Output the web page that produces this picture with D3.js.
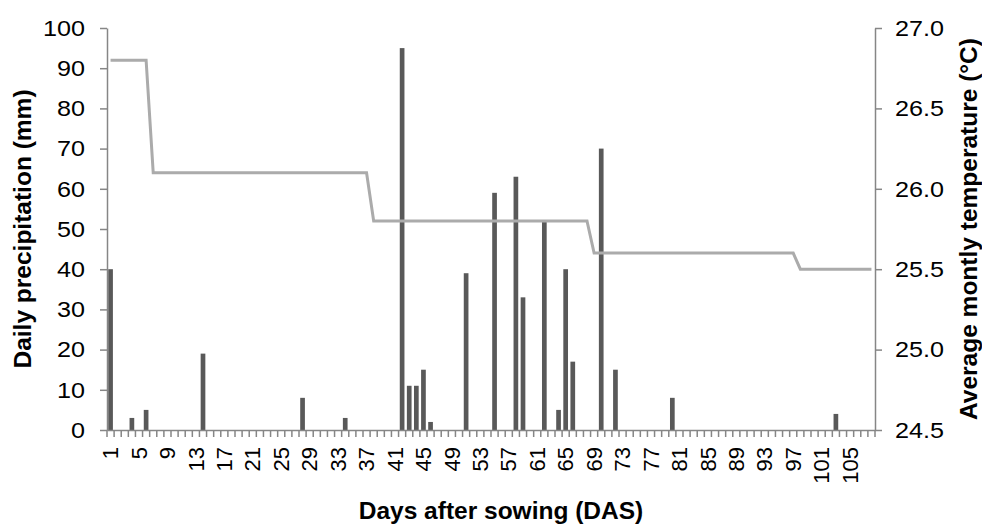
<!DOCTYPE html>
<html>
<head>
<meta charset="utf-8">
<script src="https://cdn.jsdelivr.net/npm/d3@7"></script>
<style>
  body { margin: 0; background: #fff; }
  svg text { font-family: "Liberation Sans", Arial, sans-serif; }
</style>
</head>
<body>
<div id="chart"></div>
<script>
// categories: days after sowing
var days = d3.range(1, 109);
var dayLabels = [1,5,9,13,17,21,25,29,33,37,41,45,49,53,57,61,65,69,73,77,81,85,89,93,97,101,105];

// daily precipitation (mm), only the rainy days
var rainDays   = [1, 4, 6, 14, 28, 34, 42, 43, 44, 45, 46, 51, 55, 58, 59, 62, 64, 65, 66, 70, 72, 80, 103];
var rainValues = [40, 3, 5, 19, 8, 3, 95, 11, 11, 15, 2, 39, 59, 63, 33, 52, 5, 40, 17, 70, 15, 8, 4];

// average monthly temperature (C), corner points of the step line
var tempDays   = [1, 6, 7, 37, 38, 68, 69, 97, 98, 108];
var tempValues = [26.8, 26.8, 26.1, 26.1, 25.8, 25.8, 25.6, 25.6, 25.5, 25.5];

var leftTicks  = [0,10,20,30,40,50,60,70,80,90,100];
var rightTicks = [24.5,25.0,25.5,26.0,26.5,27.0];

var W = 982, H = 527;
var pLeft = 107, pRight = 875, pTop = 28, pBottom = 430;
var axisColor = "#868686";

var svg = d3.select("#chart").append("svg")
    .attr("width", W).attr("height", H);

var x = d3.scaleBand().domain(days).range([pLeft, pRight]).padding(0);
var yL = d3.scaleLinear().domain([0, 100]).range([pBottom, pTop]);
var yR = d3.scaleLinear().domain([24.5, 27]).range([pBottom, pTop]);
var bw = x.bandwidth();

// bars
svg.selectAll(".bar")
    .data(rainDays)
    .enter().append("rect")
    .attr("class", "bar")
    .attr("x", function(d){ return x(d) + bw * 0.17; })
    .attr("width", bw * 0.66)
    .attr("y", function(d, i){ return yL(rainValues[i]); })
    .attr("height", function(d, i){ return pBottom - yL(rainValues[i]); })
    .attr("fill", "#595959");

// temperature line
var line = d3.line()
    .x(function(d){ return x(d) + bw / 2; })
    .y(function(d, i){ return yR(tempValues[i]); });

svg.append("path")
    .datum(tempDays)
    .attr("d", line)
    .attr("fill", "none")
    .attr("stroke", "#ababab")
    .attr("stroke-width", 3);

// left axis
var gL = svg.append("g")
    .attr("transform", "translate(" + pLeft + ",0)")
    .call(d3.axisLeft(yL).tickValues(leftTicks).tickSize(7).tickPadding(15).tickSizeOuter(0));

// right axis
var gR = svg.append("g")
    .attr("transform", "translate(" + pRight + ",0)")
    .call(d3.axisRight(yR).tickValues(rightTicks).tickSize(7).tickPadding(13).tickSizeOuter(0)
        .tickFormat(d3.format(".1f")));

// bottom axis: labels
var gB = svg.append("g")
    .attr("transform", "translate(0," + pBottom + ")")
    .call(d3.axisBottom(x).tickValues(dayLabels).tickSize(0).tickSizeOuter(0));

gB.selectAll("text")
    .attr("transform", "rotate(-90)")
    .attr("text-anchor", "end")
    .attr("x", -17)
    .attr("y", 0)
    .attr("dy", "0.35em");

// bottom axis: tick marks between days
gB.selectAll(".daytick")
    .data(days.concat([null]))
    .enter().append("line")
    .attr("class", "daytick")
    .attr("x1", function(d){ return d === null ? pRight : x(d); })
    .attr("x2", function(d){ return d === null ? pRight : x(d); })
    .attr("y1", 0)
    .attr("y2", 7)
    .attr("stroke", axisColor)
    .attr("stroke-width", 1.5);

[gL, gR, gB].forEach(function(g){
  g.selectAll(".domain").attr("stroke", axisColor).attr("stroke-width", 1.5);
  g.selectAll(".tick line").attr("stroke", axisColor).attr("stroke-width", 1.5);
  g.selectAll("text").attr("fill", "#000");
});
gB.selectAll("text").attr("font-size", 22);

// y tick labels are a bit wide in the original, stretch them a little
[gL, gR].forEach(function(g){
  g.selectAll(".tick text").each(function(){
    var t = d3.select(this), tx = +t.attr("x");
    t.attr("x", 0)
     .attr("font-size", 22.5)
     .attr("transform", "translate(" + tx + ",0) scale(1.12,1)");
  });
});

// titles
svg.append("text")
    .attr("transform", "translate(31," + ((pTop + pBottom) / 2) + ") rotate(-90)")
    .attr("text-anchor", "middle")
    .attr("font-size", 24.5)
    .attr("font-weight", "bold")
    .text("Daily precipitation (mm)");

svg.append("text")
    .attr("transform", "translate(977," + ((pTop + pBottom) / 2) + ") rotate(-90)")
    .attr("text-anchor", "middle")
    .attr("font-size", 24.5)
    .attr("font-weight", "bold")
    .text("Average montly temperature (°C)");

svg.append("text")
    .attr("x", 501)
    .attr("y", 519)
    .attr("text-anchor", "middle")
    .attr("font-size", 24.5)
    .attr("font-weight", "bold")
    .text("Days after sowing (DAS)");
</script>
</body>
</html>
